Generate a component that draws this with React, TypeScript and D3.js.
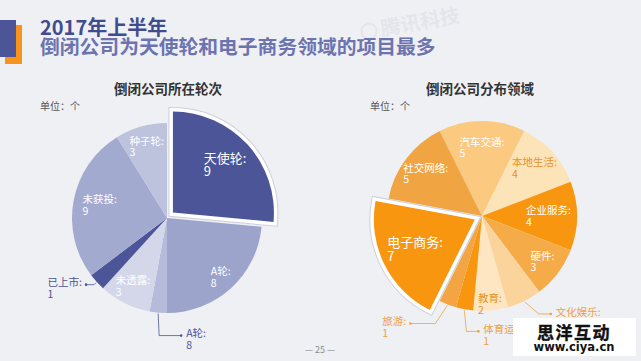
import { useMemo } from "react";
import * as d3 from "d3";

// 倒闭公司所在轮次 (clockwise from 12 o'clock)
const roundNames = ["天使轮", "A轮", "A轮", "未透露", "已上市", "未获投", "种子轮"];
const roundValues = [9, 8, 1, 3, 1, 9, 3];
const roundPrinted = [9, 8, 8, 3, 1, 9, 3]; // as printed on the slide

// 倒闭公司分布领域 (clockwise, first slice centred on 12 o'clock)
const fieldNames = ["汽车交通", "本地生活", "企业服务", "硬件", "文化娱乐", "教育", "体育运动", "旅游", "电子商务", "社交网络"];
const fieldValues = [5, 4, 4, 3, 2, 2, 1, 1, 7, 5];

const ROUND_COLORS = ["#4b5597", "#9ca4cc", "#b5bbd9", "#d4d7e9", "#4b5597", "#a3aad0", "#bdc2dd"];
const FIELD_COLORS = ["#fbc97f", "#fde3b8", "#f8960f", "#f5ab48", "#fbd49b", "#fde6c1", "#f8960f", "#f3a443", "#f8960f", "#f1a542"];
const FIELD_INK = ["#fff", "#e8922a", "#fff", "#fff", "#fff", "#e8922a", "#fff", "#fff", "#fff", "#fff"];

const FONT = "'Noto Sans CJK SC', 'Noto Sans', sans-serif";
const BG = "#eff0f4";

type Leader = { d1: [number, number]; d2: number };

function textW(s: string, fs: number) {
  let w = 0;
  for (const ch of s) {
    if (/[\u3000-\u9fff\uff00-\uffef]/.test(ch)) w += fs;
    else if (ch === ":") w += 0.3 * fs;
    else w += 0.6 * fs;
  }
  return w;
}

function Pie({
  cx, cy, r, names, values, printed, colors, ink, outColor, highlight,
  startAngle = 0, labelK, leaders,
}: {
  cx: number; cy: number; r: number; names: string[]; values: number[];
  printed: number[]; colors: string[]; ink: string[]; outColor: string;
  highlight: number; startAngle?: number; labelK: Record<number, number>;
  leaders: Record<number, Leader>;
}) {
  const arcs = useMemo(
    () =>
      d3.pie<number>().sort(null).value((d) => d)
        .startAngle(startAngle).endAngle(startAngle + 2 * Math.PI)(values),
    [values, startAngle],
  );
  const arc = d3.arc<d3.PieArcDatum<number>>().innerRadius(0).outerRadius(r);
  const bigR = r + 6;
  const arcBig = d3.arc<d3.PieArcDatum<number>>().innerRadius(0).outerRadius(bigR);
  const EXPLODE = 8;

  const mid = (a: d3.PieArcDatum<number>) => (a.startAngle + a.endAngle) / 2;

  const slices = arcs.map((a, i) => {
    if (i === highlight) return null;
    return <path key={i} d={arc(a) ?? ""} fill={colors[i]} />;
  });

  const h = arcs[highlight];
  const hm = mid(h);
  const ox = Math.sin(hm) * EXPLODE;
  const oy = -Math.cos(hm) * EXPLODE;
  const hd = arcBig(h) ?? "";

  const labels = arcs.map((a, i) => {
    const m = mid(a);
    const big = i === highlight;
    const fs = big ? 13 : 10.5;
    const gap = big ? 13.5 : 11.5;
    const line1 = `${names[i]}:`;
    const line2 = `${printed[i]}`;
    const lw = textW(line1, fs);
    const ld = leaders[i];
    if (ld) {
      const p0x = cx + Math.sin(m) * (r + 1);
      const p0y = cy - Math.cos(m) * (r + 1);
      const p1x = p0x + ld.d1[0];
      const p1y = p0y + ld.d1[1];
      const p2x = p1x + ld.d2;
      const right = ld.d2 > 0;
      const x = right ? p2x + 5 : p2x - 4 - lw;
      const y1 = p1y - 2 + fs * 0.36;
      return (
        <g key={`l${i}`}>
          <polyline
            points={`${p0x},${p0y} ${p1x},${p1y} ${p2x},${p1y}`}
            fill="none" stroke={outColor} strokeWidth={0.8}
          />
          <circle cx={p2x} cy={p1y} r={1.3} fill={outColor} />
          <text x={x} y={y1} fontSize={fs} fill={outColor} fontFamily={FONT}>
            <tspan x={x}>{line1}</tspan>
            <tspan x={x} dy={gap}>{line2}</tspan>
          </text>
        </g>
      );
    }
    const k = labelK[i] ?? 0.75;
    const rr = (big ? bigR : r) * k;
    const px = cx + (big ? ox : 0) + Math.sin(m) * rr;
    const py = cy + (big ? oy : 0) - Math.cos(m) * rr;
    const x = px - lw / 2;
    const y1 = py - gap / 2 + fs * 0.36;
    return (
      <text key={`l${i}`} x={x} y={y1} fontSize={fs} fill={ink[i]} fontFamily={FONT}>
        <tspan x={x}>{line1}</tspan>
        <tspan x={x} dy={gap}>{line2}</tspan>
      </text>
    );
  });

  return (
    <g>
      <g transform={`translate(${cx},${cy})`}>
        {slices}
        <g transform={`translate(${ox},${oy})`}>
          <path d={hd} fill="none" stroke="#cdd0da" strokeWidth={9} strokeLinejoin="miter" />
          <path d={hd} fill="none" stroke="#ffffff" strokeWidth={7} strokeLinejoin="miter" />
          <path d={hd} fill={colors[highlight]} />
        </g>
      </g>
      {labels}
    </g>
  );
}

function Watermark({ x, y, size = 22 }: { x: number; y: number; size?: number }) {
  return (
    <g transform={`translate(${x},${y}) rotate(-10)`} opacity={0.09}>
      <circle cx={-size * 0.6} cy={-size * 0.35} r={size * 0.38} fill="none" stroke="#7d8399" strokeWidth={2} />
      <text x={0} y={0} fontSize={size} fill="#7d8399" fontFamily={FONT} fontWeight="bold">
        腾讯科技
      </text>
    </g>
  );
}

export default function App() {
  const fieldTotal = d3.sum(fieldValues);
  const fieldStart = -(fieldValues[0] / fieldTotal) * Math.PI;

  return (
    <svg width={641} height={361} style={{ position: "absolute", left: 0, top: 0, background: BG }}>
      <rect width={641} height={361} fill={BG} />

      {/* corner decoration */}
      <rect x={5} y={25} width={17} height={39} fill="#f7941d" />
      <rect x={0} y={20} width={16} height={37} fill="#4b5597" />

      <Watermark x={382} y={36} size={20} />

      <text x={40} y={35} fontSize={20} fontWeight="bold" fill="#414c8e" fontFamily={FONT}>
        2017年上半年
      </text>
      <text x={40} y={54} fontSize={19.8} fontWeight="bold" fill="#6c74b0" fontFamily={FONT}>
        倒闭公司为天使轮和电子商务领域的项目最多
      </text>

      <text x={168} y={94} fontSize={13.5} fontWeight="bold" fill="#333" textAnchor="middle" fontFamily={FONT}>
        倒闭公司所在轮次
      </text>
      <text x={480} y={94} fontSize={13.5} fontWeight="bold" fill="#333" textAnchor="middle" fontFamily={FONT}>
        倒闭公司分布领域
      </text>
      <text x={40} y={110} fontSize={10} fill="#555" fontFamily={FONT}>单位：个</text>
      <text x={370} y={110} fontSize={10} fill="#555" fontFamily={FONT}>单位：个</text>

      <Pie
        cx={167} cy={218} r={95}
        names={roundNames} values={roundValues} printed={roundPrinted}
        colors={ROUND_COLORS} ink={roundNames.map(() => "#fff")} outColor="#4b5597"
        highlight={0}
        labelK={{ 0: 0.7, 1: 0.84, 3: 0.8, 5: 0.72, 6: 0.78 }}
        leaders={{ 2: { d1: [1, 22], d2: 22 }, 4: { d1: [-2, 2], d2: -8 } }}
      />

      <Pie
        cx={482} cy={216} r={95}
        names={fieldNames} values={fieldValues} printed={fieldValues}
        colors={FIELD_COLORS} ink={FIELD_INK} outColor="#f0a040"
        highlight={8} startAngle={fieldStart}
        labelK={{ 0: 0.72, 1: 0.75, 2: 0.7, 3: 0.8, 5: 0.93, 8: 0.66, 9: 0.74 }}
        leaders={{
          4: { d1: [14, 12], d2: 12 },
          6: { d1: [2, 21], d2: 12 },
          7: { d1: [-12, 18], d2: -25 },
        }}
      />

      <text x={320} y={353} fontSize={9} fill="#8a8a8a" textAnchor="middle" fontFamily={FONT}>
        — 25 —
      </text>

      {/* site stamp */}
      <rect x={513} y={318} width={123} height={38} fill="#ffffff" />
      <text x={574} y={339} fontSize={17} fontWeight="bold" fill="#111" textAnchor="middle"
        letterSpacing={1.5} stroke="#111" strokeWidth={0.4} fontFamily={FONT}>
        思洋互动
      </text>
      <text x={574} y={351} fontSize={11.5} fontWeight="bold" fill="#111" textAnchor="middle" fontFamily="'DejaVu Sans', sans-serif">
        www.ciya.cn
      </text>
    </svg>
  );
}
